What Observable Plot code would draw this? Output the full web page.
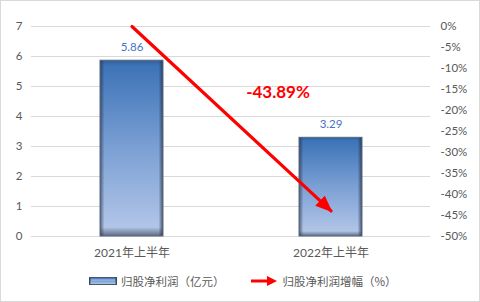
<!DOCTYPE html>
<html>
<head>
<meta charset="utf-8">
<script src="https://cdn.jsdelivr.net/npm/d3@7"></script>
<script src="https://cdn.jsdelivr.net/npm/@observablehq/plot@0.6"></script>
<style>
  html, body { margin: 0; padding: 0; background: #fff; }
  #chart {
    width: 480px; height: 302px; box-sizing: border-box;
    border: 1px solid #D9D9D9; background: #fff;
    font-family: Lato, "Noto Sans CJK SC", sans-serif;
  }
  #chart svg { display: block; }
  .legend {
    display: flex; align-items: center; justify-content: flex-start;
    height: 36px; padding-left: 88px; box-sizing: border-box;
    font-size: 11.5px; color: #595959;
    font-family: "Noto Sans CJK SC", Lato, sans-serif;
  }
  .legend .item { display: flex; align-items: center; }
  .legend svg { margin-right: 4px; }
</style>
</head>
<body>
<div id="chart"></div>
<script>
// Half-year net profit attributable to shareholders (100 million yuan)
const categories = ["2021年上半年", "2022年上半年"];
const profit = [5.86, 3.29];
// Growth arrow: from the 0% baseline to the reported change (%)
const growthPath = [0, -43.89];
const growthLabel = "-43.89%";
const leftTicks = [0, 1, 2, 3, 4, 5, 6, 7];
const rightTicks = [0, -5, -10, -15, -20, -25, -30, -35, -40, -45, -50];
const seriesNames = ["归股净利润（亿元）", "归股净利润增幅（%）"];

// Secondary axis: 0% .. -50% shares the 7 .. 0 range of the primary axis
const leftMax = 7, pctMin = -50;
const toLeft = p => leftMax + p * leftMax / -pctMin;
const toPct = v => Math.round((v - leftMax) * -pctMin / leftMax);

const bars = categories.map((c, i) => ({cat: c, value: profit[i]}));
const arrowPts = categories.map((c, i) => ({cat: c, y: toLeft(growthPath[i])}));
const arrowRed = "#FF0000";

const defs = () => {
  const d = d3.create("svg:defs");
  const g1 = d.append("linearGradient").attr("id", "barFill")
    .attr("x1", 0).attr("y1", 0).attr("x2", 0).attr("y2", 1);
  g1.append("stop").attr("offset", "0%").attr("stop-color", "#3A74BC");
  g1.append("stop").attr("offset", "50%").attr("stop-color", "#80A6DC");
  g1.append("stop").attr("offset", "100%").attr("stop-color", "#BFD1F3");
  const g2 = d.append("linearGradient").attr("id", "barEdge")
    .attr("x1", 0).attr("y1", 0).attr("x2", 1).attr("y2", 0);
  g2.append("stop").attr("offset", "0%").attr("stop-color", "#1F2A3C").attr("stop-opacity", 0.65);
  g2.append("stop").attr("offset", "7%").attr("stop-color", "#1F2A3C").attr("stop-opacity", 0.05);
  g2.append("stop").attr("offset", "93%").attr("stop-color", "#1F2A3C").attr("stop-opacity", 0.05);
  g2.append("stop").attr("offset", "100%").attr("stop-color", "#1F2A3C").attr("stop-opacity", 0.75);
  const g3 = d.append("linearGradient").attr("id", "barBottom")
    .attr("x1", 0).attr("y1", 0).attr("x2", 0).attr("y2", 1);
  g3.append("stop").attr("offset", "0%").attr("stop-color", "#1F2A3C").attr("stop-opacity", 0.25);
  g3.append("stop").attr("offset", "3%").attr("stop-color", "#1F2A3C").attr("stop-opacity", 0);
  g3.append("stop").attr("offset", "95%").attr("stop-color", "#1F2A3C").attr("stop-opacity", 0);
  g3.append("stop").attr("offset", "100%").attr("stop-color", "#1F2A3C").attr("stop-opacity", 0.6);
  const m = d.append("marker").attr("id", "arrowHead")
    .attr("markerUnits", "userSpaceOnUse").attr("orient", "auto")
    .attr("viewBox", "0 -8 18 16").attr("markerWidth", 18).attr("markerHeight", 16)
    .attr("refX", 15).attr("refY", 0);
  m.append("path").attr("d", "M0,-7L17,0L0,7Z").attr("fill", arrowRed);
  return d.node();
};

const inset = 68;
const chart = Plot.plot({
  width: 478,
  height: 262,
  marginTop: 25,
  marginBottom: 27,
  marginLeft: 30,
  marginRight: 49,
  style: {fontFamily: 'Lato, "Noto Sans CJK SC", sans-serif', fontSize: "11.5px", color: "#595959"},
  x: {domain: categories, padding: 0, label: null},
  y: {domain: [0, leftMax], label: null},
  marks: [
    defs,
    Plot.gridY(leftTicks, {stroke: "#D9D9D9", strokeOpacity: 1}),
    Plot.axisY(leftTicks, {anchor: "left", tickSize: 0, tickPadding: 9, label: null, fill: "#595959"}),
    Plot.axisY(rightTicks.map(toLeft), {
      anchor: "right", tickSize: 0, tickPadding: 10, label: null, fill: "#595959",
      textAnchor: "start", tickFormat: v => toPct(v) + "%"
    }),
    Plot.axisX({tickSize: 0, tickPadding: 12, label: null, fill: "#595959", fontSize: "12px"}),
    Plot.barY(bars, {x: "cat", y: "value", fill: "url(#barFill)", insetLeft: inset, insetRight: inset}),
    Plot.barY(bars, {x: "cat", y: "value", fill: "url(#barEdge)", insetLeft: inset, insetRight: inset}),
    Plot.barY(bars, {x: "cat", y: "value", fill: "url(#barBottom)", stroke: "#5C6B80", strokeWidth: 1,
      insetLeft: inset, insetRight: inset}),
    Plot.text(bars, {x: "cat", y: "value", text: d => d.value.toFixed(2), dy: -13,
      fill: "#4472C4", fontSize: 11.5}),
    Plot.line(arrowPts, {x: "cat", y: "y", stroke: arrowRed, strokeWidth: 3.2}),
    Plot.text([growthLabel], {x: () => categories[1], y: () => 4.8, text: d => d, dx: -53,
      fill: arrowRed, fontSize: 17, fontWeight: "bold",
      fontFamily: "Lato, 'Liberation Sans', sans-serif"})
  ]
});

// Filled arrowhead at the end of the growth line
chart.querySelectorAll(`[stroke="${arrowRed}"]`).forEach(el => {
  const paths = el.tagName.toLowerCase() === "path" ? [el] : el.querySelectorAll("path");
  paths.forEach(p => p.setAttribute("marker-end", "url(#arrowHead)"));
});

const root = document.getElementById("chart");
root.appendChild(chart);

// Legend below the plot
const legend = document.createElement("div");
legend.className = "legend";
legend.innerHTML = `
  <div class="item">
    <svg width="28" height="8">
      <rect x="0.5" y="0.5" width="27" height="7" fill="url(#barFill)" stroke="#4A5A72"/>
      <rect x="0.5" y="0.5" width="27" height="7" fill="url(#barEdge)"/>
      <line x1="2" y1="3" x2="26" y2="3" stroke="#A9C1E8" stroke-width="1"/>
    </svg>
    <span>${seriesNames[0]}</span>
  </div>
  <div class="item" style="margin-left:24px">
    <svg width="30" height="12">
      <line x1="2" y1="6" x2="20" y2="6" stroke="${arrowRed}" stroke-width="3"/>
      <path d="M18,1L28,6L18,11Z" fill="${arrowRed}"/>
    </svg>
    <span>${seriesNames[1]}</span>
  </div>`;
root.appendChild(legend);
</script>
</body>
</html>
